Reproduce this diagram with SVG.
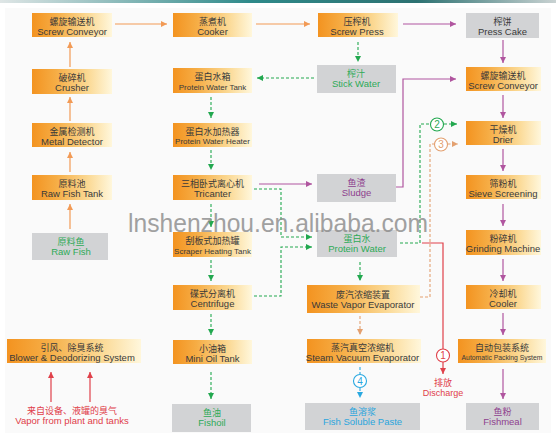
<svg xmlns="http://www.w3.org/2000/svg" width="556" height="445" viewBox="0 0 556 445">
<defs>
<linearGradient id="og" x1="0" y1="0" x2="1" y2="0">
<stop offset="0" stop-color="#f39320"/>
<stop offset="0.3" stop-color="#f6ad45"/>
<stop offset="0.7" stop-color="#fbd994"/>
<stop offset="1" stop-color="#fff7dc"/>
</linearGradient>
<linearGradient id="topbar" x1="0" y1="0" x2="1" y2="0">
<stop offset="0" stop-color="#dfe6e6"/>
<stop offset="0.45" stop-color="#2f8a8a"/>
<stop offset="0.75" stop-color="#2d7272"/>
<stop offset="1" stop-color="#c9d2d2"/>
</linearGradient>
<marker id="mo" viewBox="0 0 6 6" refX="6" refY="3" markerWidth="6" markerHeight="6" markerUnits="userSpaceOnUse" orient="auto"><path d="M0,0 L6,3 L0,6 z" fill="#f29a55"/></marker>
<marker id="mp" viewBox="0 0 6 6" refX="6" refY="3" markerWidth="6" markerHeight="6" markerUnits="userSpaceOnUse" orient="auto"><path d="M0,0 L6,3 L0,6 z" fill="#b0559f"/></marker>
<marker id="mg" viewBox="0 0 6 6" refX="6" refY="3" markerWidth="6" markerHeight="6" markerUnits="userSpaceOnUse" orient="auto"><path d="M0,0 L6,3 L0,6 z" fill="#22a84f"/></marker>
<marker id="mt" viewBox="0 0 6 6" refX="6" refY="3" markerWidth="6" markerHeight="6" markerUnits="userSpaceOnUse" orient="auto"><path d="M0,0 L6,3 L0,6 z" fill="#e3a070"/></marker>
<marker id="mb" viewBox="0 0 6 6" refX="6" refY="3" markerWidth="6" markerHeight="6" markerUnits="userSpaceOnUse" orient="auto"><path d="M0,0 L6,3 L0,6 z" fill="#29a8e0"/></marker>
<marker id="mr" viewBox="0 0 6 6" refX="6" refY="3" markerWidth="6" markerHeight="6" markerUnits="userSpaceOnUse" orient="auto"><path d="M0,0 L6,3 L0,6 z" fill="#e0404a"/></marker>
</defs>
<style>
.ob{fill:url(#og)}
.gb{fill:#d2d3d5}
text{font-family:"Liberation Sans","Noto Sans CJK SC",Arial,sans-serif;text-anchor:middle;fill:#3a3a3a}
.cn{font-size:9px}
.en{font-size:9.5px}
.sm{font-size:8px}
.xs{font-size:6.8px}
.green{fill:#2eaa58}
.purple{fill:#8e3f8e}
.blue{fill:#2aa5dd}
.red{fill:#e0404a}
.lo{fill:none;stroke:#f29a55;stroke-width:1.2;marker-end:url(#mo)}
.lp{fill:none;stroke:#b0559f;stroke-width:1.2;marker-end:url(#mp)}
.lg{fill:none;stroke:#22a84f;stroke-width:1.1;stroke-dasharray:3 2}
.lt{fill:none;stroke:#e3a070;stroke-width:1.1;stroke-dasharray:3 2}
.lb{fill:none;stroke:#29a8e0;stroke-width:1.1;stroke-dasharray:3 2}
.lr{fill:none;stroke:#e0404a;stroke-width:1.2}
.ag{marker-end:url(#mg)}
.at{marker-end:url(#mt)}
.ab{marker-end:url(#mb)}
.ar{marker-end:url(#mr)}
.cg{fill:#fff;stroke:#22a84f;stroke-width:1.1}
.ct{fill:#fff;stroke:#e3a070;stroke-width:1.1}
.cb{fill:#fff;stroke:#29a8e0;stroke-width:1.1}
.cr{fill:#fff;stroke:#e0404a;stroke-width:1.1}
.num{font-size:10px}
</style>
<rect x="0" y="0" width="556" height="445" fill="#ffffff"/>
<rect x="5" y="8" width="546" height="425" fill="#fafafa"/>
<rect x="0" y="0" width="556" height="3" fill="url(#topbar)"/>

<g id="connectors">
<path class="lo" d="M70,229 V204"/>
<path class="lo" d="M70,172 V152"/>
<path class="lo" d="M70,121 V97"/>
<path class="lo" d="M70,67 V42"/>
<path class="lo" d="M115,24 H167"/>
<path class="lo" d="M256,24 H310"/>
<path class="lp" d="M403,24 H456"/>
<path class="lp" d="M503,40 V63"/>
<path class="lp" d="M503,95 V118"/>
<path class="lp" d="M503,149 V171"/>
<path class="lp" d="M503,204 V226"/>
<path class="lp" d="M503,259 V281"/>
<path class="lp" d="M503,313 V335"/>
<path class="lp" d="M503,369 V399"/>
<path class="lp" d="M259,184 H312"/>
<path class="lp" d="M396,187 H403 V79 H456"/>
<path class="lg ag" d="M358,42 V62"/>
<path class="lg ag" d="M314,78 H257"/>
<path class="lg ag" d="M211,97 V118"/>
<path class="lg ag" d="M211,150 V170"/>
<path class="lg ag" d="M211,204 V227"/>
<path class="lg ag" d="M211,260 V281"/>
<path class="lg ag" d="M211,314 V335"/>
<path class="lg ag" d="M211,372 V399"/>
<path class="lg ag" d="M254,189 H281 V237 H312"/>
<path class="lg ag" d="M254,296 H281 V247 H312"/>
<path class="lg ag" d="M360,262 V281"/>
<path class="lg" d="M400,243 H420 V124 H430"/>
<circle class="cg" cx="437" cy="124.5" r="6.5"/>
<text class="num green" x="437" y="128">2</text>
<path class="lg ag" d="M444,124 H457"/>
<path class="lt" d="M420,297 H430 V144 H434.5"/>
<circle class="ct" cx="441" cy="144.5" r="6.5"/>
<text class="num" x="441" y="148" style="fill:#e3a070">3</text>
<path class="lt at" d="M447.5,144 H458"/>
<path class="lt at" d="M360,316 V335"/>
<path class="lb" d="M360,367 V374.5"/>
<circle class="cb" cx="360" cy="381" r="6.5"/>
<text class="num blue" x="360" y="384.5">4</text>
<path class="lb ab" d="M360,388 V398"/>
<path class="lr" d="M422,243 H443 V349"/>
<circle class="cr" cx="443" cy="355.5" r="6.5"/>
<text class="num red" x="443" y="359">1</text>
<path class="lr ar" d="M443,362 V374"/>
<path class="lr ar" d="M51,402 V372"/>
<path class="lr ar" d="M90,402 V372"/>
</g>

<g id="screw-conveyor-1"><rect class="ob" x="32" y="13" width="80" height="24"/><text class="cn" x="72" y="24.5">螺旋输送机</text><text class="en" x="72" y="34.5">Screw Conveyor</text></g>
<g id="crusher"><rect class="ob" x="32" y="69" width="80" height="25"/><text class="cn" x="72" y="80.5">破碎机</text><text class="en" x="72" y="91">Crusher</text></g>
<g id="metal-detector"><rect class="ob" x="32" y="123" width="80" height="24"/><text class="cn" x="72" y="134.5">金属检测机</text><text class="en" x="72" y="144.5">Metal Detector</text></g>
<g id="raw-fish-tank"><rect class="ob" x="32" y="175" width="80" height="25"/><text class="cn" x="72" y="186.5">原料池</text><text class="en" x="72" y="197">Raw Fish Tank</text></g>
<g id="raw-fish"><rect class="gb" x="32" y="233" width="76" height="27"/><text class="cn green" x="71" y="245">原料鱼</text><text class="en green" x="71" y="255">Raw Fish</text></g>
<g id="blower"><rect class="ob" x="7" y="339" width="134" height="24"/><text class="cn" x="72" y="350.5">引风、除臭系统</text><text class="en" x="72" y="360.5">Blower &amp; Deodorizing System</text></g>
<g id="vapor-source"><text class="cn red" x="72" y="414">来自设备、液罐的臭气</text><text class="en red" x="72" y="424">Vapor from plant and tanks</text></g>

<g id="cooker"><rect class="ob" x="173" y="13" width="79" height="24"/><text class="cn" x="212.5" y="24.5">蒸煮机</text><text class="en" x="212.5" y="34.5">Cooker</text></g>
<g id="protein-water-tank"><rect class="ob" x="173" y="68" width="79" height="25"/><text class="cn" x="212.5" y="79.5">蛋白水箱</text><text class="sm" x="212.5" y="89.5">Protein Water Tank</text></g>
<g id="protein-water-heater"><rect class="ob" x="173" y="123" width="79" height="24"/><text class="cn" x="212.5" y="134.5">蛋白水加热器</text><text class="sm" x="212.5" y="144">Protein Water Heater</text></g>
<g id="tricanter"><rect class="ob" x="173" y="175" width="79" height="25"/><text class="cn" x="212.5" y="186.5">三相卧式离心机</text><text class="en" x="212.5" y="197">Tricanter</text></g>
<g id="scraper-heating-tank"><rect class="ob" x="173" y="232" width="79" height="25"/><text class="cn" x="212.5" y="243.5">刮板式加热罐</text><text class="sm" x="212.5" y="253.5">Scraper Heating Tank</text></g>
<g id="centrifuge"><rect class="ob" x="173" y="285" width="79" height="25"/><text class="cn" x="212.5" y="296.5">碟式分离机</text><text class="en" x="212.5" y="307">Centrifuge</text></g>
<g id="mini-oil-tank"><rect class="ob" x="173" y="340" width="79" height="24"/><text class="cn" x="212.5" y="351.5">小油箱</text><text class="en" x="212.5" y="361.5">Mini Oil Tank</text></g>
<g id="fishoil"><rect class="gb" x="172" y="404" width="79" height="28"/><text class="cn green" x="212" y="416">鱼油</text><text class="en green" x="212" y="426">Fishoil</text></g>

<g id="screw-press"><rect class="ob" x="318" y="13" width="80" height="24"/><text class="cn" x="357" y="24.5">压榨机</text><text class="en" x="357" y="34.5">Screw Press</text></g>
<g id="stick-water"><rect class="gb" x="317" y="65" width="79" height="28"/><text class="cn green" x="356" y="77">榨汁</text><text class="en green" x="356" y="87">Stick Water</text></g>
<g id="sludge"><rect class="gb" x="317" y="174" width="79" height="28"/><text class="cn purple" x="356.5" y="186">鱼渣</text><text class="en purple" x="356.5" y="196">Sludge</text></g>
<g id="protein-water"><rect class="gb" x="317" y="230" width="80" height="27"/><text class="cn green" x="357" y="242">蛋白水</text><text class="en green" x="357" y="252">Protein Water</text></g>
<g id="waste-vapor-evaporator"><rect class="ob" x="307" y="285" width="113" height="28"/><text class="cn" x="363" y="297.5">废汽浓缩装置</text><text class="en" x="363" y="307.5">Waste Vapor Evaporator</text></g>
<g id="steam-vacuum-evaporator"><rect class="ob" x="307" y="339" width="114" height="24"/><text class="cn" x="362.5" y="350.5">蒸汽真空浓缩机</text><text class="en" x="362.5" y="360.5">Steam Vacuum Evaporator</text></g>
<g id="fish-soluble-paste"><rect class="gb" x="305" y="403" width="115" height="27"/><text class="cn blue" x="362.5" y="415">鱼溶浆</text><text class="en blue" x="362.5" y="425">Fish Soluble Paste</text></g>

<g id="press-cake"><rect class="gb" x="466" y="13" width="73" height="25"/><text class="cn" x="502.5" y="24.5">榨饼</text><text class="en" x="502.5" y="34.5">Press Cake</text></g>
<g id="screw-conveyor-2"><rect class="ob" x="466" y="67" width="75" height="24"/><text class="cn" x="503" y="78.5">螺旋输送机</text><text class="en" x="503" y="88.5">Screw Conveyor</text></g>
<g id="drier"><rect class="ob" x="466" y="121" width="75" height="24"/><text class="cn" x="503" y="132.5">干燥机</text><text class="en" x="503" y="142.5">Drier</text></g>
<g id="sieve-screening"><rect class="ob" x="466" y="175" width="75" height="24"/><text class="cn" x="503" y="186.5">筛粉机</text><text class="en" x="503" y="196.5">Sieve Screening</text></g>
<g id="grinding-machine"><rect class="ob" x="466" y="230" width="75" height="25"/><text class="cn" x="503" y="241.5">粉碎机</text><text class="en" x="503" y="252">Grinding Machine</text></g>
<g id="cooler"><rect class="ob" x="466" y="285" width="75" height="24"/><text class="cn" x="503" y="296.5">冷却机</text><text class="en" x="503" y="306.5">Cooler</text></g>
<g id="automatic-packing-system"><rect class="ob" x="458" y="339" width="88" height="24"/><text class="cn" x="502" y="350.5">自动包装系统</text><text class="xs" x="502" y="359.5">Automatic Packing System</text></g>
<g id="fishmeal"><rect class="gb" x="466" y="403" width="73" height="27"/><text class="cn purple" x="502.5" y="415">鱼粉</text><text class="en purple" x="502.5" y="425">Fishmeal</text></g>

<g id="discharge"><text class="cn red" x="443" y="386">排放</text><text class="red" x="443" y="395.5" style="font-size:9px">Discharge</text></g>

<text x="128" y="232" textLength="300" lengthAdjust="spacingAndGlyphs" style="font-size:26px;text-anchor:start;fill:#8a8a8a;opacity:0.8">lnshenzhou.en.alibaba.com</text>
</svg>
